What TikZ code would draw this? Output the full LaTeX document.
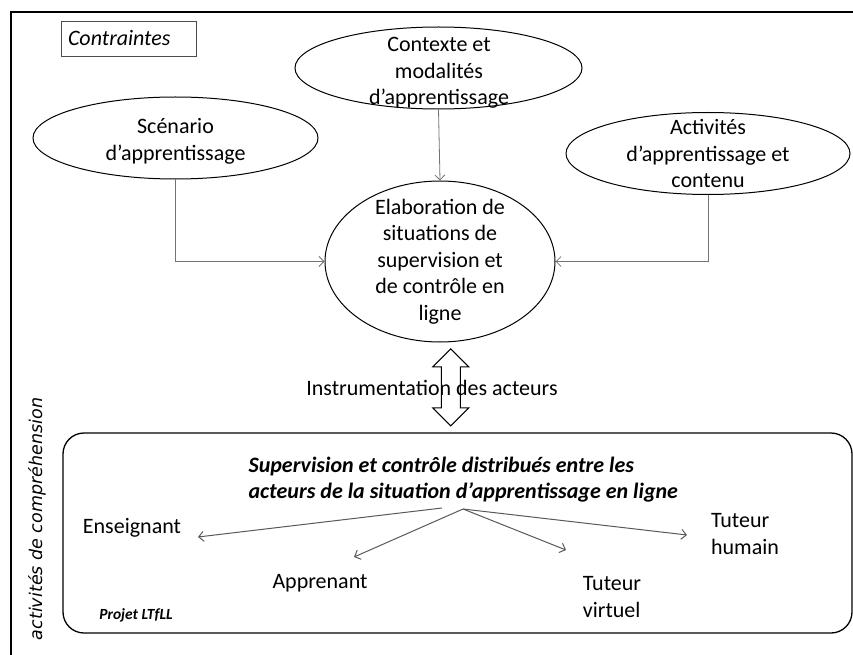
\documentclass[tikz,border=0pt]{standalone}
\usepackage{fontspec}
\setmainfont{Carlito}
\newfontfamily\vertfont{DejaVu Sans}
\usetikzlibrary{shapes.geometric,arrows.meta,calc}

\begin{document}
\begin{tikzpicture}[x=1pt,y=-1pt,
        >={Straight Barb[length=5pt,width=10pt]},
        txt/.style={font=\fontsize{22}{26.5}\selectfont,align=center},
        bulle/.style={draw,ellipse,line width=1pt,inner sep=0pt},
        fleche/.style={->,draw=black!55,line width=.8pt},
        acteur/.style={->,draw=black!65,line width=1pt}]
        \useasboundingbox (0,0) rectangle (853,655);
        \draw[line width=2pt] (853,12) -| (11,655);
        \node[draw=black!70,line width=.8pt,minimum height=35pt,text width=121pt,inner sep=7pt,align=left,font=\fontsize{22}{26}\selectfont\itshape] (contr) at (128.5,38.5) {Contraintes};
        % les contraintes
        \node[bulle,minimum width=287pt,minimum height=82pt] (ctx) at (438.5,68) {};
        \node[txt] (ctxtxt) at (439,73) {Contexte et\\modalités\\d’apprentissage};
        \node[bulle,minimum width=285pt,minimum height=82pt,label={[txt,yshift=-3.5pt]center:Scénario\\d’apprentissage}] (scen) at (175.5,138) {};
        \node[bulle,minimum width=284pt,minimum height=82pt,label={[txt]center:Activités\\d’apprentissage et\\contenu}] (act) at (708,153.5) {};
        \node[bulle,minimum width=230pt,minimum height=161pt,label={[txt]center:Elaboration de\\situations de\\supervision et\\de contrôle en\\ligne}] (elab) at (440,261.5) {};
        \draw[fleche] (scen.south) |- (elab.west);
        \draw[fleche] (ctx.south) -- (elab.north);
        \draw[fleche] (act.south) |- (elab.east);
        % instrumentation
        \node[draw,line width=1.3pt,rounded corners=21pt,minimum width=789pt,minimum height=200pt] (box) at (457.5,533) {};
        \coordinate (dbl) at ($(elab.south)!.5!(box.north)$);
        \draw[line width=1pt] ([xshift=2pt]dbl) ++(0,-38.5) -- ++(18,18) -- ++(-8.5,0) -- ++(0,41) -- ++(8.5,0) -- ++(-18,18)
            -- ++(-18,-18) -- ++(8.5,0) -- ++(0,-41) -- ++(-8.5,0) -- cycle;
        \node[txt] (instr) at (432,388) {Instrumentation des acteurs};
        % acteurs
        \node[font=\fontsize{22}{26}\selectfont\bfseries\itshape,align=left,anchor=west] (sup) at (245,480) {Supervision et contrôle distribués entre les\\acteurs de la situation d’apprentissage en ligne};
        \node[txt] (ens) at (132,528) {Enseignant};
        \node[txt] (app) at (320,583) {Apprenant};
        \node[txt,align=left] (tvirt) at (612,597) {Tuteur\\virtuel};
        \node[txt,align=left] (thum) at (745,534) {Tuteur\\humain};
        \node[font=\fontsize{15.5}{18}\selectfont\bfseries\itshape] (ltfll) at (136,615) {Projet LTfLL};
        \node[font=\vertfont\itshape\fontsize{17.5}{20}\selectfont,rotate=90] (compr) at (37,519) {activités de compréhension};
        \coordinate (hubL) at (442,508);
        \coordinate (hubR) at (463,509);
        \coordinate (ensT) at (198,537);
        \coordinate (appT) at (354,557);
        \coordinate (tvirtT) at (566,550);
        \coordinate (thumT) at (687,535);
        \draw[acteur] (hubL) -- (ensT);
        \draw[acteur] (hubR) -- (appT);
        \draw[acteur] (hubR) -- (tvirtT);
        \draw[acteur] (hubR) -- (thumT);
    \end{tikzpicture}
\end{document}
